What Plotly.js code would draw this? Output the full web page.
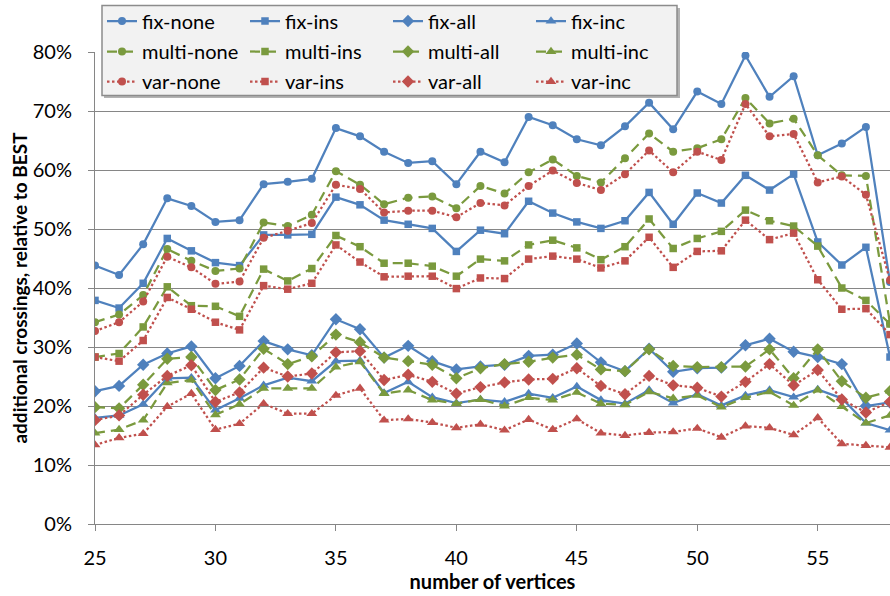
<!DOCTYPE html>
<html>
<head>
<meta charset="utf-8">
<script src="https://cdn.plot.ly/plotly-3.0.1.min.js"></script>
<style>
  html, body { margin: 0; padding: 0; background: #ffffff; }
  #chart { width: 890px; height: 596px; }
</style>
</head>
<body>
<div id="chart"></div>
<script>
// number of vertices
const vertices = [25, 26, 27, 28, 29, 30, 31, 32, 33, 34, 35, 36, 37, 38, 39, 40, 41,
                  42, 43, 44, 45, 46, 47, 48, 49, 50, 51, 52, 53, 54, 55, 56, 57, 58];

// additional crossings relative to BEST, in percent
const fixNone   = [43.8, 42.2, 47.4, 55.2, 53.9, 51.2, 51.5, 57.6, 58.0, 58.5, 67.1, 65.7, 63.1, 61.2, 61.5, 57.6, 63.1,
                   61.3, 69.0, 67.6, 65.2, 64.2, 67.4, 71.4, 66.9, 73.3, 71.2, 79.4, 72.4, 75.9, 62.5, 64.5, 67.3, 41.0];
const fixIns    = [37.9, 36.6, 40.8, 48.4, 46.3, 44.3, 43.8, 49.0, 49.0, 49.1, 55.4, 54.1, 51.5, 50.8, 50.1, 46.2, 49.8,
                   49.2, 54.7, 52.7, 51.2, 50.1, 51.4, 56.2, 50.8, 56.1, 54.4, 59.1, 56.6, 59.3, 47.8, 43.9, 46.9, 28.3];
const fixAll    = [22.5, 23.4, 27.0, 28.9, 30.1, 24.7, 26.8, 31.0, 29.6, 28.6, 34.7, 33.0, 28.2, 30.2, 27.6, 26.2, 26.7,
                   27.0, 28.5, 28.7, 30.6, 27.4, 25.9, 29.7, 25.8, 26.4, 26.5, 30.3, 31.4, 29.2, 28.3, 27.1, 20.0, 20.6];
const fixInc    = [18.0, 18.4, 20.3, 24.7, 24.8, 19.3, 21.3, 23.5, 24.8, 24.2, 27.6, 27.7, 22.2, 24.1, 21.5, 20.5, 21.1,
                   20.7, 22.1, 21.4, 23.3, 21.0, 20.4, 22.7, 20.5, 22.0, 20.1, 21.8, 22.7, 21.5, 22.8, 21.3, 17.1, 15.9];
const multiNone = [34.2, 35.5, 38.8, 46.6, 44.6, 42.9, 43.3, 51.1, 50.5, 52.4, 59.8, 57.5, 54.2, 55.3, 55.5, 53.5, 57.3,
                   56.0, 59.6, 61.8, 59.0, 57.9, 62.0, 66.2, 63.1, 63.7, 65.2, 72.2, 67.9, 68.7, 62.5, 59.1, 59.0, 34.0];
const multiIns  = [28.3, 28.9, 33.4, 40.2, 37.0, 36.9, 35.2, 43.2, 41.2, 43.3, 48.9, 47.0, 44.2, 44.2, 43.7, 42.0, 44.9,
                   44.6, 47.3, 48.1, 46.8, 44.8, 47.0, 51.7, 46.7, 48.4, 49.6, 53.2, 51.4, 50.5, 47.1, 40.0, 37.9, 33.9];
const multiAll  = [19.8, 19.6, 23.6, 28.0, 28.3, 22.7, 24.5, 29.7, 27.1, 28.4, 32.1, 30.8, 28.2, 27.6, 27.0, 24.7, 26.4,
                   27.1, 27.5, 28.2, 28.7, 26.2, 25.9, 29.6, 26.8, 26.6, 26.6, 26.7, 29.6, 24.7, 29.6, 24.2, 21.4, 22.5];
const multiInc  = [15.4, 16.0, 17.6, 23.9, 24.4, 18.5, 20.3, 23.0, 23.0, 23.0, 26.6, 27.5, 22.1, 22.7, 21.0, 20.4, 21.1,
                   20.0, 21.4, 21.0, 22.3, 20.4, 20.2, 22.4, 21.3, 21.8, 19.8, 21.4, 22.4, 20.1, 22.7, 19.9, 17.1, 18.4];
const varNone   = [32.7, 34.2, 37.7, 45.3, 43.5, 40.7, 41.1, 48.5, 49.7, 51.0, 57.5, 56.8, 52.8, 53.1, 53.1, 52.0, 54.4,
                   54.0, 57.3, 59.9, 57.8, 56.6, 59.3, 63.3, 59.6, 63.1, 61.7, 71.2, 65.7, 66.1, 57.9, 58.9, 55.8, 41.3];
const varIns    = [28.3, 27.6, 31.1, 38.4, 36.4, 34.2, 32.9, 40.4, 39.8, 40.8, 47.3, 44.4, 41.9, 42.0, 42.0, 39.9, 41.7,
                   41.6, 44.9, 45.4, 44.9, 43.4, 44.6, 48.6, 43.5, 46.2, 46.3, 51.5, 48.2, 49.3, 41.4, 36.4, 36.5, 32.1];
const varAll    = [17.6, 18.4, 21.9, 25.1, 26.9, 20.7, 22.3, 26.5, 25.0, 25.5, 29.1, 29.3, 24.4, 25.3, 24.1, 22.1, 23.2,
                   24.0, 24.5, 24.6, 26.4, 23.4, 22.0, 25.1, 23.5, 23.1, 21.6, 24.1, 27.1, 23.5, 26.1, 21.1, 18.9, 20.7];
const varInc    = [13.4, 14.6, 15.3, 19.9, 22.1, 16.0, 17.0, 20.4, 18.7, 18.7, 21.8, 23.0, 17.6, 17.8, 17.2, 16.3, 16.9,
                   15.9, 17.7, 16.0, 17.8, 15.4, 15.0, 15.5, 15.6, 16.2, 14.7, 16.6, 16.3, 15.1, 18.0, 13.6, 13.3, 13.0];

const seriesNames = ['fix-none', 'fix-ins', 'fix-all', 'fix-inc',
                     'multi-none', 'multi-ins', 'multi-all', 'multi-inc',
                     'var-none', 'var-ins', 'var-all', 'var-inc'];
const seriesData = [fixNone, fixIns, fixAll, fixInc,
                    multiNone, multiIns, multiAll, multiInc,
                    varNone, varIns, varAll, varInc];

const yTickVals = [0, 10, 20, 30, 40, 50, 60, 70, 80];
const xTickVals = [25, 30, 35, 40, 45, 50, 55];

// one style per strategy family (row), one marker per variant (column)
const families = [
  { color: '#4F81BD', dash: 'solid',       legend: 'legend'  },
  { color: '#7A9A3E', dash: '10px,6px',    legend: 'legend2' },
  { color: '#C0504D', dash: '2.5px,2.5px', legend: 'legend3' }
];
const markers = [
  { symbol: 'circle',       size: 8 },
  { symbol: 'square',       size: 7.5 },
  { symbol: 'diamond',      size: 9.5 },
  { symbol: 'triangle-up',  size: 9.5 }
];

const FONT = 'Lato, "Open Sans", sans-serif';

const traces = seriesData.map((vals, i) => {
  const fam = families[Math.floor(i / 4)];
  const mk = markers[i % 4];
  return {
    type: 'scatter',
    mode: 'lines+markers',
    name: seriesNames[i],
    legend: fam.legend,
    x: vertices,
    y: vals,
    line: { color: fam.color, width: 2.25, dash: fam.dash },
    marker: { color: fam.color, symbol: mk.symbol, size: mk.size, line: { width: 0 } },
    hoverinfo: 'x+y+name'
  };
});

// plot area: x 95..890 px, y 52..524 px
const W = 890, H = 596, ML = 95, MT = 52, MB = 72;
const PW = W - ML, PH = H - MT - MB;
const px2x = px => (px - ML) / PW;
const py2y = py => (H - MB - py) / PH;

function legendRow(yCenter) {
  return {
    orientation: 'h',
    x: px2x(102), xanchor: 'left',
    y: py2y(yCenter), yanchor: 'middle',
    entrywidth: 98, entrywidthmode: 'pixels',
    bgcolor: 'rgba(0,0,0,0)', borderwidth: 0,
    font: { family: FONT, size: 20, color: '#000000' },
    traceorder: 'normal',
    itemclick: false, itemdoubleclick: false
  };
}

const gridColor = '#868686';

const layout = {
  width: W, height: H,
  margin: { l: ML, r: 0, t: MT, b: MB, pad: 0 },
  paper_bgcolor: '#ffffff',
  plot_bgcolor: '#ffffff',
  font: { family: FONT, size: 20, color: '#000000' },
  showlegend: true,
  legend:  legendRow(21),
  legend2: legendRow(51.5),
  legend3: legendRow(81.5),
  xaxis: {
    range: [25, 58],
    tickmode: 'array', tickvals: xTickVals, ticktext: xTickVals.map(String),
    ticks: 'outside', ticklen: 6, tickcolor: gridColor, tickwidth: 1,
    showline: true, linecolor: gridColor, linewidth: 1,
    showgrid: false, zeroline: false,
    tickfont: { family: FONT, size: 20, color: '#000000' },
    ticklabelstandoff: 10,
    title: { text: 'number of vertices', standoff: 4,
             font: { family: FONT, size: 20, color: '#000000', weight: 'bold' } }
  },
  yaxis: {
    range: [0, 80],
    tickmode: 'array', tickvals: yTickVals, ticktext: yTickVals.map(v => v + '%'),
    ticks: 'outside', ticklen: 6, tickcolor: gridColor, tickwidth: 1,
    showline: true, linecolor: gridColor, linewidth: 1,
    showgrid: true, gridcolor: gridColor, gridwidth: 1,
    zeroline: false,
    tickfont: { family: FONT, size: 20, color: '#000000' },
    ticklabelstandoff: 12,
    title: { text: 'additional crossings, relative to BEST', standoff: 0,
             font: { family: FONT, size: 19, color: '#000000', weight: 'bold' } }
  },
  shapes: [
    // legend frame with a soft drop shadow
    { type: 'rect', xref: 'paper', yref: 'paper', layer: 'above',
      x0: px2x(104), x1: px2x(680), y0: py2y(98), y1: py2y(8),
      fillcolor: '#b3b3b3', line: { width: 0 } },
    { type: 'rect', xref: 'paper', yref: 'paper', layer: 'above',
      x0: px2x(102), x1: px2x(677), y0: py2y(95.5), y1: py2y(5.5),
      fillcolor: '#f2f2f2', line: { color: '#8c8c8c', width: 1.5 } }
  ]
};

Plotly.newPlot('chart', traces, layout, { staticPlot: true, displayModeBar: false });
</script>
</body>
</html>
